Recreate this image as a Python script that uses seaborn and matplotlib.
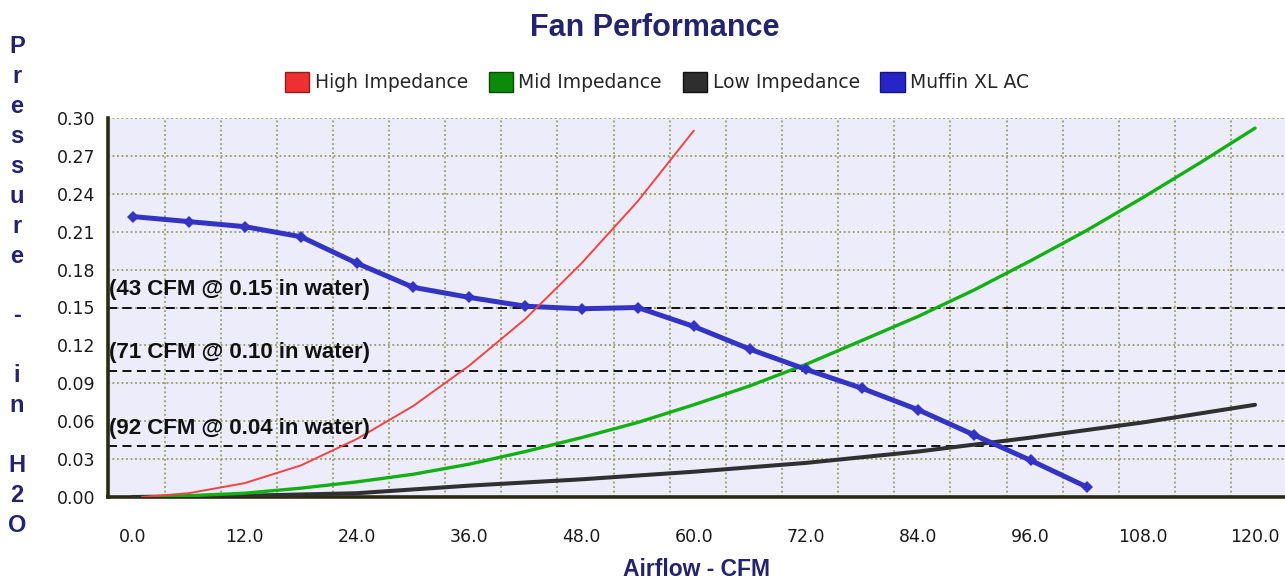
import matplotlib
matplotlib.use("Agg")
import matplotlib.pyplot as plt
from matplotlib.patches import Patch
import seaborn as sns

# Curves (CFM vs inches of water)
high_x = [1, 6, 12, 18, 24, 30, 36, 42, 48, 54, 60]
high_y = [0.000, 0.003, 0.011, 0.025, 0.046, 0.072, 0.104, 0.141, 0.185, 0.234, 0.290]

mid_x = [2, 6, 12, 18, 24, 30, 36, 42, 48, 54, 60, 66, 72, 78, 84, 90, 96, 102, 108, 114, 120]
mid_y = [0.000, 0.001, 0.003, 0.007, 0.012, 0.018, 0.026, 0.036, 0.047, 0.059, 0.073,
         0.088, 0.105, 0.124, 0.143, 0.164, 0.187, 0.211, 0.237, 0.264, 0.292]

low_x = [0, 12, 24, 36, 48, 60, 72, 84, 96, 108, 120]
low_y = [0.000, 0.001, 0.003, 0.009, 0.014, 0.020, 0.027, 0.036, 0.047, 0.059, 0.073]

fan_x = [0, 6, 12, 18, 24, 30, 36, 42, 48, 54, 60, 66, 72, 78, 84, 90, 96, 102]
fan_y = [0.222, 0.218, 0.214, 0.206, 0.185, 0.166, 0.158, 0.151, 0.149, 0.150, 0.135,
         0.117, 0.101, 0.086, 0.069, 0.049, 0.029, 0.008]

# Operating points
op_cfm = [43, 71, 92]
op_pressure = [0.15, 0.10, 0.04]

x_ticks = [0, 12, 24, 36, 48, 60, 72, 84, 96, 108, 120]
y_ticks = [0.00, 0.03, 0.06, 0.09, 0.12, 0.15, 0.18, 0.21, 0.24, 0.27, 0.30]

navy = "#23236e"
grid_col = "#9a9a68"

sns.set_style("white")
plt.rcParams['font.family'] = ['DejaVu Sans']

fig = plt.figure(figsize=(12.85, 5.83), dpi=100)
ax = fig.add_axes([108 / 1285, 1 - 497 / 583, 1177 / 1285, 379 / 583])
ax.set_facecolor("#ececfa")

sns.lineplot(x=low_x, y=low_y, ax=ax, color="#303030", linewidth=2.9, zorder=3)
sns.lineplot(x=mid_x, y=mid_y, ax=ax, color="#12b012", linewidth=2.4, zorder=3)
sns.lineplot(x=fan_x, y=fan_y, ax=ax, color="#3434c4", linewidth=3.6,
             marker="D", markersize=6, markeredgewidth=0, zorder=4)
sns.lineplot(x=high_x, y=high_y, ax=ax, color="#f04444", linewidth=1.4, zorder=5)

for cfm, p in zip(op_cfm, op_pressure):
    ax.axhline(p, color="black", linewidth=1.3, dashes=(5, 3), zorder=2)
    ax.text(-2.5, p + 0.006, f"({cfm} CFM @ {p:.2f} in water)", fontsize=16,
            fontweight="bold", family="Liberation Sans", color="#111111",
            va="bottom", ha="left", zorder=6)

ax.set_xlim(-2.62, 123.2)
ax.set_ylim(0, 0.30)
ax.set_xticks(x_ticks)
ax.set_xticklabels([f"{v:.1f}" for v in x_ticks])
ax.set_yticks(y_ticks)
ax.set_yticklabels([f"{v:.2f}" for v in y_ticks])
ax.set_xticks([-2.57 + 6 * k for k in range(21)], minor=True)
ax.grid(which="minor", axis="x", color=grid_col, linestyle=(0, (1, 1.5)), linewidth=1.3)
ax.grid(which="major", axis="y", color=grid_col, linestyle=(0, (1, 1.5)), linewidth=1.3)
ax.grid(which="major", axis="x", visible=False)
ax.tick_params(axis="both", which="both", length=0, labelsize=12.5, colors="#1a1a1a")
ax.tick_params(axis="x", pad=22)
ax.tick_params(axis="y", pad=9)

for s in ["top", "right"]:
    ax.spines[s].set_visible(False)
for s in ["left", "bottom"]:
    ax.spines[s].set_linewidth(2.6)
    ax.spines[s].set_color("#2b2b14")

ax.set_xlabel("Airflow - CFM", fontsize=16.5, fontweight="bold", family="Liberation Sans",
              color=navy, labelpad=9)
ax.set_ylabel("")

fig.text(655 / 1285, 1 - 28 / 583, "Fan Performance", fontsize=22, fontweight="bold",
         family="Liberation Sans", color=navy, ha="center", va="center")

fig.text(17 / 1285, 1 - 35 / 583, "\n".join("Pressure - in H2O"), fontsize=17,
         fontweight="bold", family="Liberation Sans", color=navy,
         ha="center", va="top", linespacing=1.385)

handles = [Patch(facecolor="#f03030", edgecolor="#8a2020", label="High Impedance"),
           Patch(facecolor="#0b8a0b", edgecolor="#064806", label="Mid Impedance"),
           Patch(facecolor="#2e2e2e", edgecolor="#111111", label="Low Impedance"),
           Patch(facecolor="#2626c8", edgecolor="#15157a", label="Muffin XL AC")]
fig.legend(handles=handles, loc="center", bbox_to_anchor=(657 / 1285, 1 - 82 / 583),
           ncol=4, frameon=False, fontsize=13.5, handlelength=1.3, handleheight=1.3,
           handletextpad=0.3, columnspacing=1.1)

fig.savefig("out.png", dpi=100)
